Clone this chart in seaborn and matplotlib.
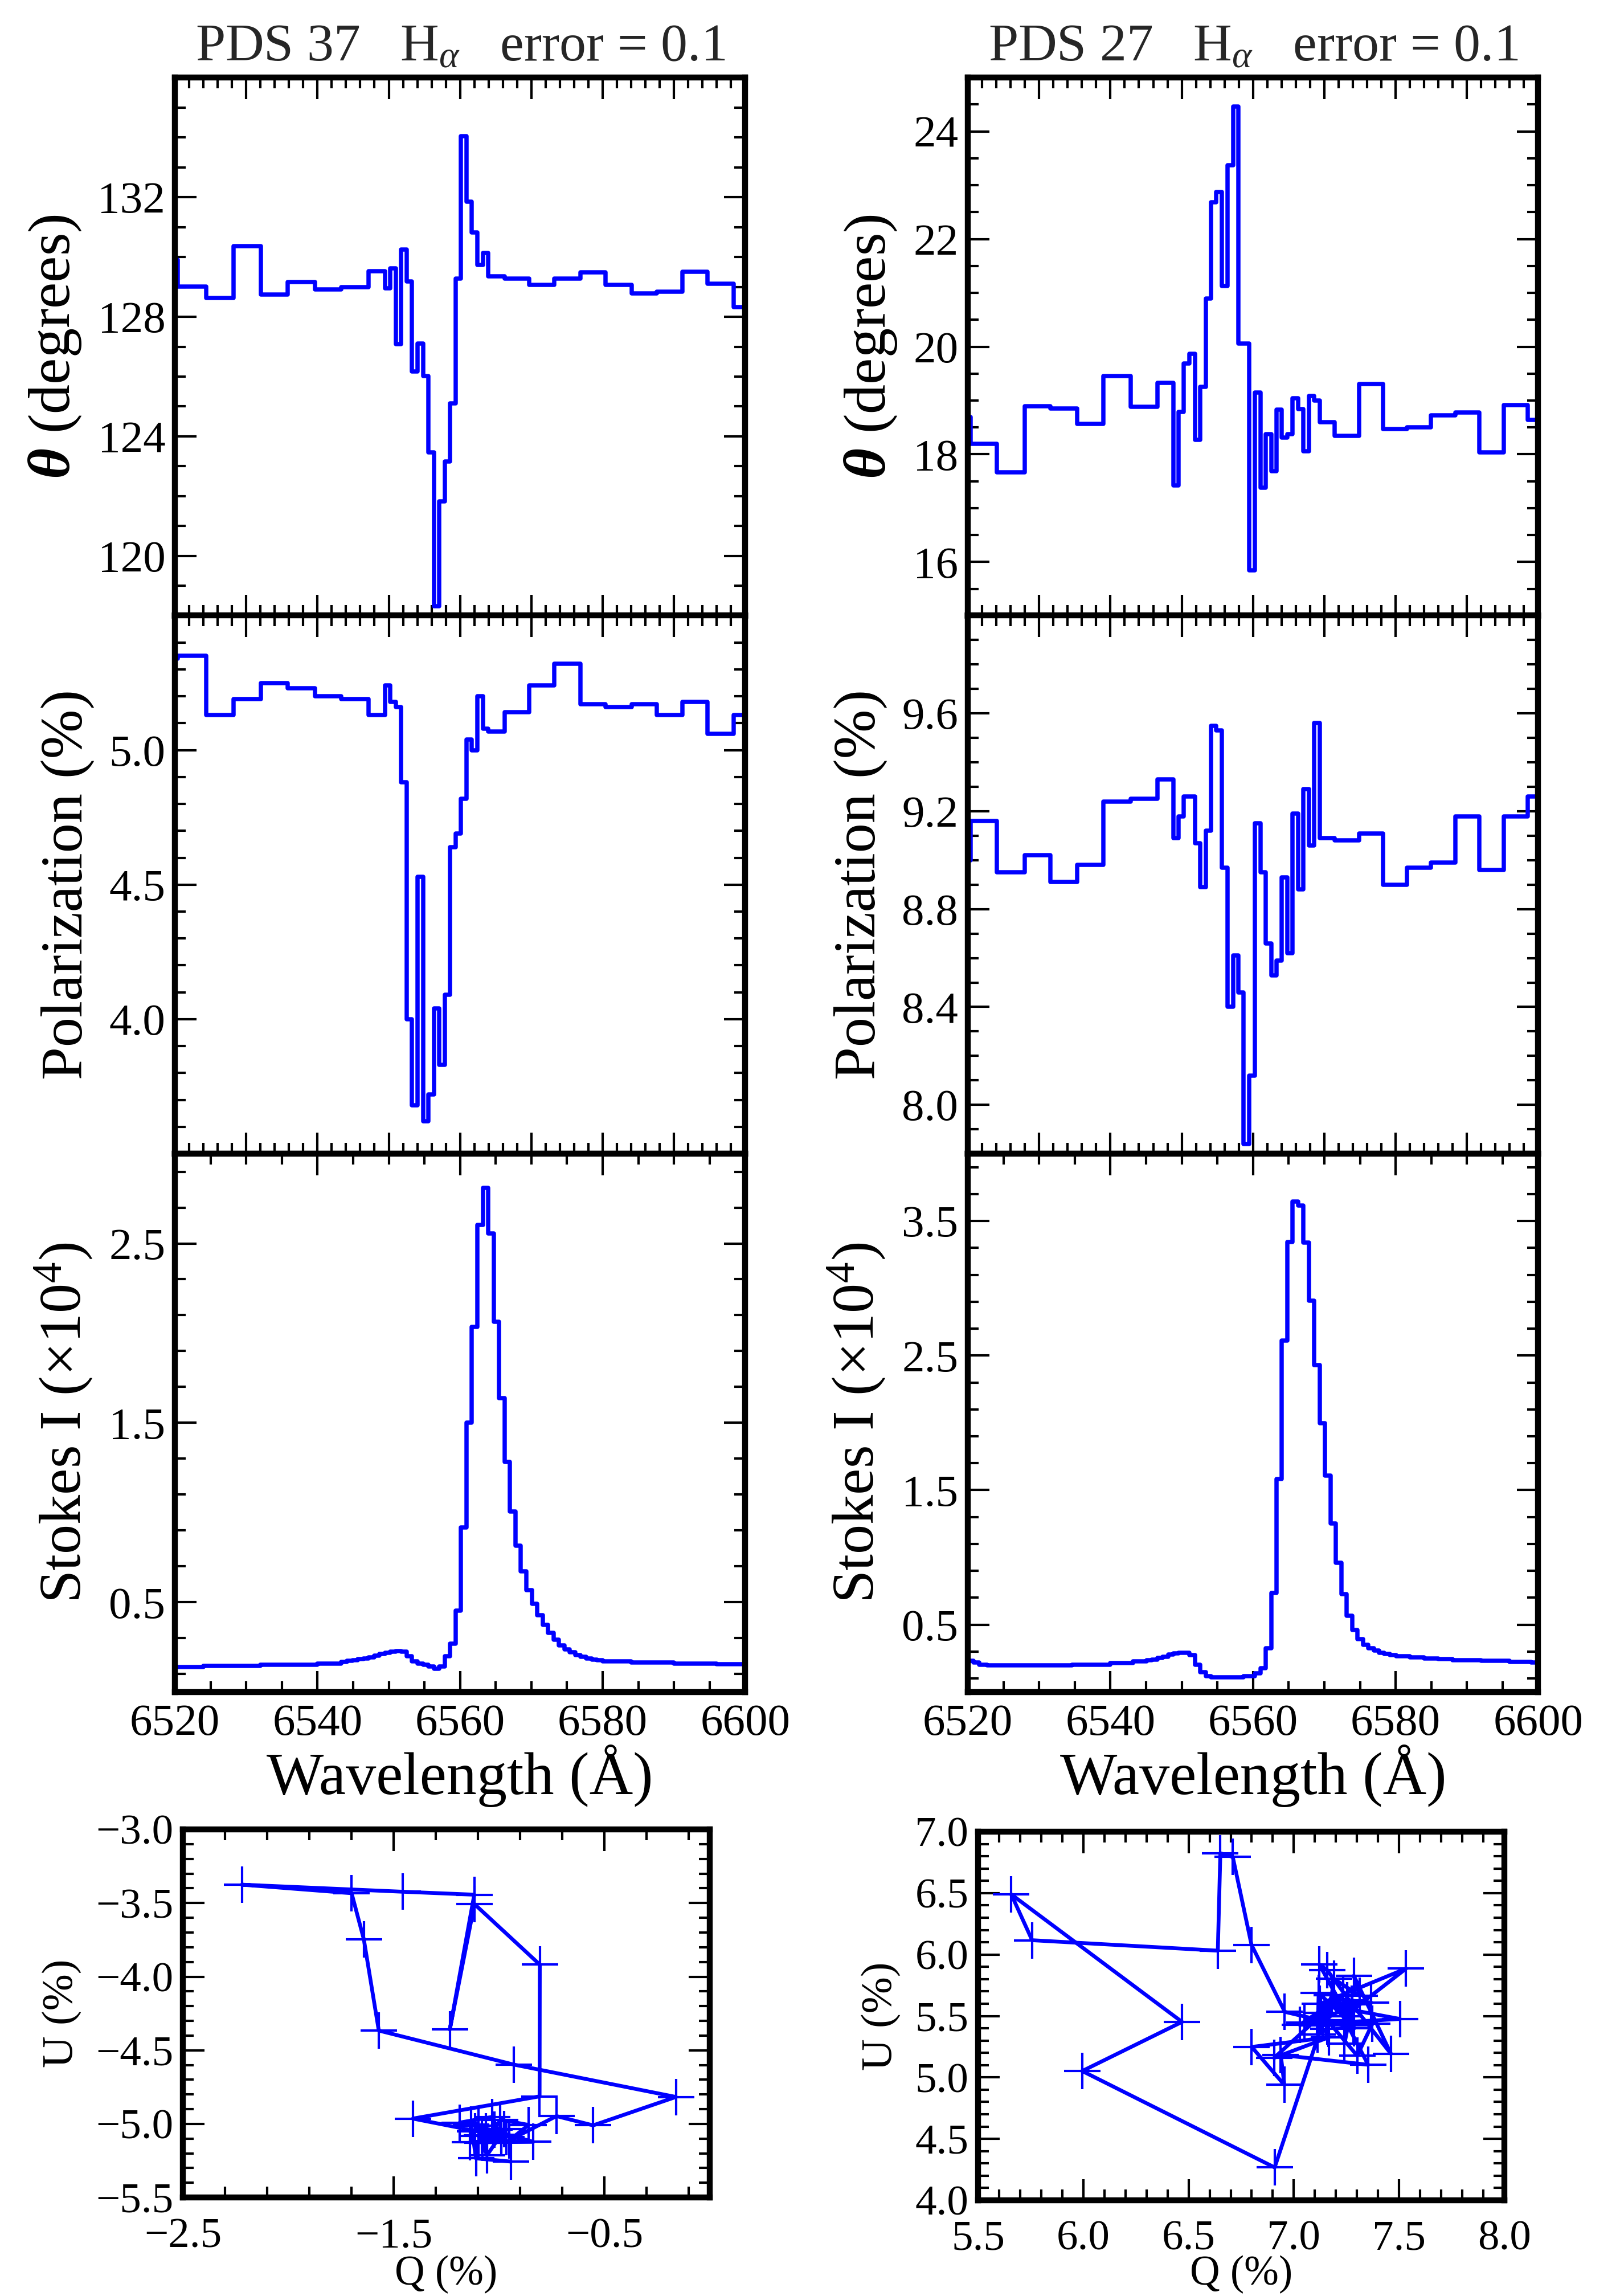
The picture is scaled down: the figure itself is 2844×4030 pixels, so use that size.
import numpy as np
import pandas as pd
import matplotlib
matplotlib.use("Agg")
import matplotlib.pyplot as plt
import matplotlib.transforms as mtransforms
import seaborn as sns
from matplotlib.ticker import MultipleLocator, FormatStrFormatter, FuncFormatter

# ---- PDS 37 : bin edges (A), position angle (deg), polarization (%)
pds37_edges = [6516.60, 6520.43, 6524.43, 6528.27, 6532.05, 6535.78, 6539.62, 6543.36,
               6547.17, 6549.46, 6550.22, 6550.99, 6551.75, 6552.51, 6553.27, 6554.04,
               6554.80, 6555.56, 6556.32, 6557.09, 6557.85, 6558.61, 6559.37, 6560.14,
               6560.90, 6561.66, 6562.42, 6563.19, 6563.95, 6566.24, 6569.73, 6573.24,
               6576.86, 6580.43, 6584.05, 6587.57, 6591.19, 6594.70, 6598.38, 6602.00]
pds37_theta = [129.91, 129.02, 128.63, 130.36, 128.74, 129.17, 128.91, 128.99, 129.53,
               128.95, 129.63, 127.08, 130.24, 129.19, 126.17, 127.10, 126.01, 123.47,
               118.33, 121.83, 123.17, 125.11, 129.28, 134.05, 131.85, 130.82, 129.73,
               130.13, 129.35, 129.27, 129.07, 129.27, 129.48, 129.06, 128.78, 128.83,
               129.50, 129.11, 128.32]
pds37_pol = [5.34, 5.35, 5.13, 5.19, 5.25, 5.23, 5.20, 5.19, 5.13, 5.24, 5.18, 5.16,
             4.88, 4.00, 3.68, 4.53, 3.62, 3.72, 4.04, 3.83, 4.09, 4.64, 4.69, 4.82,
             5.04, 5.00, 5.20, 5.08, 5.07, 5.14, 5.24, 5.32, 5.17, 5.16, 5.17, 5.13,
             5.18, 5.06, 5.13]

# PDS 37 Stokes I (x 1e4)
pds37_wl_i = [6516.60, 6524.00, 6532.00, 6540.00, 6543.36, 6544.12, 6544.89, 6545.65,
              6546.41, 6547.17, 6547.94, 6548.70, 6549.46, 6550.22, 6550.99, 6551.75,
              6552.51, 6553.27, 6554.04, 6554.80, 6555.56, 6556.32, 6557.09, 6557.85,
              6558.61, 6559.37, 6560.14, 6560.90, 6561.66, 6562.42, 6563.19, 6563.95,
              6564.71, 6565.47, 6566.24, 6567.00, 6567.76, 6568.52, 6569.29, 6570.05,
              6570.81, 6571.57, 6572.34, 6573.10, 6573.86, 6574.62, 6575.39, 6576.15,
              6576.91, 6577.67, 6578.44, 6579.20, 6579.96, 6580.72, 6584.00, 6590.00,
              6596.00, 6602.00]
pds37_flux = [0.140, 0.144, 0.150, 0.159, 0.167, 0.173, 0.177, 0.183, 0.187, 0.193,
              0.203, 0.213, 0.217, 0.223, 0.227, 0.223, 0.199, 0.169, 0.157, 0.153,
              0.143, 0.128, 0.143, 0.199, 0.270, 0.454, 0.917, 1.500, 2.035, 2.603,
              2.809, 2.555, 2.062, 1.637, 1.282, 1.005, 0.815, 0.673, 0.567, 0.492,
              0.427, 0.375, 0.328, 0.292, 0.260, 0.237, 0.221, 0.207, 0.197, 0.187,
              0.181, 0.177, 0.171, 0.169, 0.165, 0.159, 0.155]

# PDS 37 Q-U (%), one point per bin
pds37_q = [-0.944, -1.109, -1.131, -0.837, -1.138, -1.057, -1.097, -1.081, -0.974,
           -1.098, -0.965, -1.408, -0.807, -0.806, -1.116, -1.233, -1.117, -1.457,
           -2.220, -1.699, -1.641, -1.570, -0.930, -0.160, -0.553, -0.727, -0.951,
           -0.859, -0.993, -1.021, -1.077, -1.057, -0.990, -1.062, -1.114, -1.096,
           -0.988, -1.033, -1.186]
pds37_u = [-5.256, -5.234, -5.004, -5.122, -5.125, -5.122, -5.083, -5.076, -5.037,
           -5.124, -5.089, -4.964, -4.813, -3.918, -3.507, -4.359, -3.443, -3.423,
           -3.375, -3.433, -3.746, -4.366, -4.597, -4.817, -5.010, -4.947, -5.112,
           -5.007, -4.972, -5.038, -5.128, -5.214, -5.074, -5.050, -5.049, -5.012,
           -5.085, -4.953, -4.991]

# ---- PDS 27
pds27_edges = [6516.60, 6520.38, 6524.05, 6527.95, 6531.62, 6535.35, 6539.03, 6542.81,
               6546.59, 6548.86, 6549.57, 6550.27, 6551.08, 6551.84, 6552.59, 6553.41,
               6554.11, 6554.86, 6555.62, 6556.43, 6557.19, 6557.95, 6558.70, 6559.46,
               6560.27, 6561.03, 6561.78, 6562.54, 6563.30, 6564.05, 6564.81, 6565.57,
               6566.32, 6567.08, 6567.84, 6568.59, 6569.35, 6571.46, 6574.86, 6578.22,
               6581.57, 6584.97, 6588.38, 6591.73, 6595.14, 6598.49, 6602.20]
pds27_theta = [18.69, 18.20, 17.67, 18.89, 18.85, 18.57, 19.45, 18.88, 19.33, 17.42,
               18.79, 19.69, 19.87, 18.27, 19.25, 20.90, 22.68, 22.87, 21.13, 23.37,
               24.46, 20.06, 20.06, 15.85, 19.15, 17.38, 18.38, 17.69, 18.83, 18.31,
               18.38, 19.04, 18.84, 18.06, 19.08, 19.00, 18.60, 18.34, 19.31, 18.47,
               18.50, 18.72, 18.78, 18.04, 18.91, 18.64]
pds27_pol = [9.00, 9.16, 8.95, 9.02, 8.91, 8.98, 9.24, 9.25, 9.33, 9.09, 9.18, 9.26,
             9.26, 9.07, 8.89, 9.12, 9.55, 9.53, 8.97, 8.40, 8.61, 8.46, 7.84, 8.12,
             9.15, 8.95, 8.66, 8.53, 8.59, 8.93, 8.62, 9.19, 8.88, 9.29, 9.06, 9.56,
             9.09, 9.08, 9.11, 8.90, 8.97, 8.99, 9.18, 8.96, 9.18, 9.26]

pds27_wl_i = [6516.60, 6520.80, 6521.60, 6522.70, 6534.60, 6540.00, 6543.20, 6545.07,
              6545.83, 6546.59, 6547.34, 6548.10, 6548.86, 6549.57, 6551.08, 6551.84,
              6552.59, 6553.41, 6554.11, 6556.43, 6558.70, 6559.46, 6560.27, 6561.03,
              6561.78, 6562.54, 6563.30, 6564.05, 6564.81, 6565.57, 6566.32, 6567.08,
              6567.84, 6568.59, 6569.35, 6570.11, 6570.86, 6571.62, 6572.38, 6573.14,
              6573.89, 6574.65, 6575.41, 6576.16, 6576.92, 6577.68, 6578.43, 6579.19,
              6580.10, 6582.00, 6584.00, 6586.00, 6588.00, 6592.00, 6596.00, 6599.00,
              6602.20]
pds27_flux = [0.231, 0.218, 0.204, 0.196, 0.204, 0.215, 0.226, 0.234, 0.242, 0.253,
              0.263, 0.277, 0.288, 0.293, 0.272, 0.204, 0.145, 0.118, 0.108, 0.110,
              0.116, 0.118, 0.137, 0.177, 0.325, 0.737, 1.582, 2.612, 3.344, 3.643,
              3.616, 3.339, 2.908, 2.429, 1.999, 1.609, 1.254, 0.958, 0.729, 0.568,
              0.460, 0.393, 0.352, 0.325, 0.307, 0.290, 0.282, 0.272, 0.264, 0.255,
              0.250, 0.245, 0.234, 0.231, 0.223, 0.218]

pds27_q = [7.152, 7.373, 7.301, 7.129, 7.050, 7.159, 7.191, 7.313, 7.285, 7.461,
           7.275, 7.158, 7.121, 7.287, 6.957, 6.799, 6.710, 6.651, 6.639, 5.757,
           5.658, 6.469, 5.995, 6.909, 7.181, 7.353, 6.938, 6.955, 6.800, 7.167,
           6.906, 7.234, 7.028, 7.504, 7.124, 7.533, 7.240, 7.282, 7.118, 7.113,
           7.164, 7.138, 7.277, 7.241, 7.252, 7.368]
pds27_u = [5.464, 5.436, 5.177, 5.526, 5.449, 5.422, 5.802, 5.664, 5.828, 5.193,
           5.599, 5.875, 5.920, 5.400, 5.534, 6.079, 6.795, 6.825, 6.032, 6.117,
           6.490, 5.452, 5.052, 4.267, 5.671, 5.103, 5.183, 4.939, 5.248, 5.327,
           5.159, 5.668, 5.428, 5.476, 5.598, 5.886, 5.496, 5.424, 5.686, 5.349,
           5.398, 5.465, 5.596, 5.277, 5.629, 5.609]

sns.set_theme(style="ticks")
plt.rcParams.update({
    "font.family": ["Liberation Serif", "DejaVu Serif"],
    "mathtext.fontset": "custom",
    "mathtext.rm": "Liberation Serif",
    "mathtext.it": "Liberation Serif:italic",
    "mathtext.bf": "Liberation Serif:bold:italic",
    "axes.linewidth": 2.5,
    "axes.edgecolor": "black",
    "axes.labelcolor": "black",
    "xtick.direction": "in", "ytick.direction": "in",
    "xtick.top": True, "ytick.right": True,
    "xtick.major.size": 9, "ytick.major.size": 9,
    "xtick.minor.size": 4.5, "ytick.minor.size": 4.5,
    "xtick.major.width": 1.0, "ytick.major.width": 1.0,
    "xtick.minor.width": 1.0, "ytick.minor.width": 1.0,
    "xtick.color": "black", "ytick.color": "black",
    "xtick.labelsize": 19, "ytick.labelsize": 19,
    "xtick.major.pad": 5, "ytick.major.pad": 4,
})

# tick labels with a real minus sign
minus_fmt = FuncFormatter(lambda v, pos: f"{v:.1f}".replace("-", "\u2212"))

fig = plt.figure(figsize=(2845 / 300, 4030 / 300), dpi=300)

col_x = [0.1079, 0.5972]
col_w = 0.352
row_y = [0.7318, 0.4975, 0.2631]
row_h = 0.2344


def step(ax, edges, vals):
    df = pd.DataFrame({"wl": edges, "v": list(vals) + [vals[-1]]})
    sns.lineplot(data=df, x="wl", y="v", ax=ax, color="blue", lw=1.8,
                 drawstyle="steps-post", estimator=None, sort=False)
    ax.set_xlim(6520, 6600)
    ax.set_xlabel("")
    ax.set_ylabel("")


stars = [
    ("PDS 37", pds37_edges, pds37_theta, pds37_pol, pds37_wl_i, pds37_flux,
     (118, 136), [120, 124, 128, 132], 1, (3.5, 5.5), [4.0, 4.5, 5.0], (0, 3.0), [0.5, 1.5, 2.5]),
    ("PDS 27", pds27_edges, pds27_theta, pds27_pol, pds27_wl_i, pds27_flux,
     (15, 25), [16, 18, 20, 22, 24], 0.5, (7.8, 10.0), [8.0, 8.4, 8.8, 9.2, 9.6], (0, 4.0), [0.5, 1.5, 2.5, 3.5]),
]

for c, (name, edges, theta, pol, wl_i, flux, th_lim, th_ticks, th_minor,
        p_lim, p_ticks, i_lim, i_ticks) in enumerate(stars):
    ax1 = fig.add_axes([col_x[c], row_y[0], col_w, row_h])
    ax2 = fig.add_axes([col_x[c], row_y[1], col_w, row_h])
    ax3 = fig.add_axes([col_x[c], row_y[2], col_w, row_h])

    step(ax1, edges, theta)
    ax1.set_ylim(*th_lim)
    ax1.set_yticks(th_ticks)
    ax1.yaxis.set_minor_locator(MultipleLocator(th_minor))
    ax1.yaxis.set_major_formatter(FormatStrFormatter("%d"))
    ax1.set_ylabel(r"$\mathbf{\theta}$ (degrees)", fontsize=25, labelpad=6)
    ax1.set_title(name + "   H$_\\alpha$   error = 0.1", fontsize=22.5, pad=7)

    step(ax2, edges, pol)
    ax2.set_ylim(*p_lim)
    ax2.set_yticks(p_ticks)
    ax2.yaxis.set_minor_locator(MultipleLocator(0.1))
    ax2.yaxis.set_major_formatter(FormatStrFormatter("%.1f"))
    ax2.set_ylabel("Polarization (%)", fontsize=25, labelpad=6)

    for ax in (ax1, ax2):
        ax.xaxis.set_major_locator(MultipleLocator(10))
        ax.xaxis.set_minor_locator(MultipleLocator(2))
        ax.tick_params(axis="x", labelbottom=False)

    step(ax3, wl_i, flux)
    ax3.set_ylim(*i_lim)
    ax3.set_yticks(i_ticks)
    ax3.yaxis.set_minor_locator(MultipleLocator(0.2, offset=0.1))
    ax3.yaxis.set_major_formatter(FormatStrFormatter("%.1f"))
    ax3.xaxis.set_major_locator(MultipleLocator(20))
    ax3.xaxis.set_minor_locator(MultipleLocator(5))
    ax3.xaxis.set_major_formatter(FormatStrFormatter("%d"))
    ax3.set_ylabel("Stokes I (\u00d710$^4$)", fontsize=25, labelpad=6)
    ax3.set_xlabel("Wavelength (\u00c5)", fontsize=25.5, labelpad=0)

# ---- Q-U diagrams
qu_axes = [
    ([0.1128, 0.0429, 0.3251, 0.1603], pds37_q, pds37_u, (-2.5, 0.0), (-5.5, -3.0),
     MultipleLocator(1.0, offset=0.5), MultipleLocator(0.2, offset=0.1)),
    ([0.6035, 0.0417, 0.3248, 0.1605], pds27_q, pds27_u, (5.5, 8.0), (4.0, 7.0),
     MultipleLocator(0.5), MultipleLocator(0.1)),
]
for rect, q, u, xl, yl, xmaj, xmin in qu_axes:
    ax = fig.add_axes(rect)
    df = pd.DataFrame({"q": q, "u": u})
    sns.lineplot(data=df, x="q", y="u", ax=ax, sort=False, estimator=None,
                 color="blue", lw=1.6, marker="+", markersize=15.5,
                 mew=1.0, mec="blue")
    ax.set_xlim(*xl)
    ax.set_ylim(*yl)
    ax.xaxis.set_major_locator(xmaj)
    ax.xaxis.set_minor_locator(xmin)
    ax.yaxis.set_major_locator(MultipleLocator(0.5))
    ax.yaxis.set_minor_locator(MultipleLocator(0.1))
    ax.xaxis.set_major_formatter(minus_fmt)
    ax.yaxis.set_major_formatter(minus_fmt)
    ax.tick_params(labelsize=18)
    ax.tick_params(axis="x", pad=8.5)
    ax.set_xlabel("Q (%)", fontsize=17.5)
    # x centred on the axes, y fixed near the bottom edge of the figure
    blend = mtransforms.blended_transform_factory(ax.transAxes, fig.transFigure)
    ax.xaxis.set_label_coords(0.5, 1 - 3959 / 4030, transform=blend)
    ax.set_ylabel("U (%)", fontsize=18.5, labelpad=6)

fig.savefig("out.png", dpi=300)
